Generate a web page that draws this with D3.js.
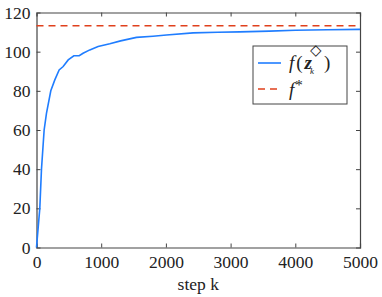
<!DOCTYPE html>
<html>
<head>
<meta charset="utf-8">
<script src="https://cdnjs.cloudflare.com/ajax/libs/d3/7.8.5/d3.min.js"></script>
<style>
  body { margin: 0; background: #fff; }
</style>
</head>
<body>
<div id="chart"></div>
<script>
// values
var steps = [0, 51, 77, 118, 154, 221, 283, 350, 412, 490, 577, 660, 720, 824, 952, 1133, 1300, 1545, 1800, 2009, 2420, 2800, 3142, 3600, 4000, 4500, 5000];
var fvals = [0, 20, 40, 60, 68.5, 80, 85.6, 90.7, 92.4, 95.8, 97.9, 97.9, 99.2, 100.9, 102.6, 104.0, 105.5, 107.3, 107.9, 108.5, 109.6, 109.9, 110.1, 110.5, 110.9, 111.2, 111.4];
var fStar = 113.2;
var xTicks = [0, 1000, 2000, 3000, 4000, 5000];
var yTicks = [0, 20, 40, 60, 80, 100, 120];

var W = 382, H = 297;
var mL = 36.5, mR = 360, mT = 12.5, mB = 247.5;
var FONT = "'Liberation Serif', 'Times New Roman', serif";

var svg = d3.select("#chart").append("svg")
  .attr("width", W).attr("height", H)
  .attr("font-family", FONT);

var x = d3.scaleLinear().domain([0, 5000]).range([mL, mR]);
var y = d3.scaleLinear().domain([0, 120]).range([mB, mT]);

// axes box with inward ticks on every side
var axColor = "#444";
var xb = svg.append("g").attr("transform", "translate(0," + mB + ")")
  .call(d3.axisBottom(x).tickValues(xTicks).tickSize(-4).tickPadding(8).tickFormat(d3.format("d")));
var xt = svg.append("g").attr("transform", "translate(0," + mT + ")")
  .call(d3.axisTop(x).tickValues(xTicks).tickSize(-4).tickFormat(""));
var yl = svg.append("g").attr("transform", "translate(" + mL + ",0)")
  .call(d3.axisLeft(y).tickValues(yTicks).tickSize(-4).tickPadding(6));
var yr = svg.append("g").attr("transform", "translate(" + mR + ",0)")
  .call(d3.axisRight(y).tickValues(yTicks).tickSize(-4).tickFormat(""));

[xb, xt, yl, yr].forEach(function (g) {
  g.attr("font-family", FONT).attr("font-size", 17.5);
  g.selectAll("path").attr("stroke", axColor).attr("stroke-width", 1.2);
  g.selectAll("line").attr("stroke", axColor);
  g.selectAll("text").style("font-family", FONT)
    .style("font-size", "17.5px").attr("fill", "#222");
});
// drop end ticks that land on the box
xb.selectAll(".tick line").filter(function (d) { return d === 0 || d === 5000; }).remove();
xt.selectAll(".tick line").filter(function (d) { return d === 0 || d === 5000; }).remove();
yl.selectAll(".tick line").filter(function (d) { return d === 0 || d === 120; }).remove();
yr.selectAll(".tick line").filter(function (d) { return d === 0 || d === 120; }).remove();

// x label
svg.append("text")
  .attr("x", (mL + mR) / 2).attr("y", 290)
  .attr("text-anchor", "middle")
  .style("font-family", FONT)
  .style("font-size", "17.5px")
  .attr("fill", "#222")
  .text("step k");

// optimum line
svg.append("line")
  .attr("x1", x(0)).attr("x2", x(5000))
  .attr("y1", y(fStar)).attr("y2", y(fStar))
  .attr("stroke", "#e0401c").attr("stroke-width", 1.6)
  .attr("stroke-dasharray", "7,5");

// objective curve
var line = d3.line()
  .x(function (d, i) { return x(steps[i]); })
  .y(function (d) { return y(d); });
svg.append("path")
  .datum(fvals)
  .attr("d", line)
  .attr("fill", "none")
  .attr("stroke", "#1f7dff")
  .attr("stroke-width", 1.6);

// legend
var lg = svg.append("g").style("font-family", FONT).attr("fill", "#222");
lg.append("rect")
  .attr("x", 253).attr("y", 46).attr("width", 94).attr("height", 58)
  .attr("fill", "#fff").attr("stroke", "#444").attr("stroke-width", 1);
lg.append("line").attr("x1", 258).attr("x2", 281).attr("y1", 63).attr("y2", 63)
  .attr("stroke", "#1f7dff").attr("stroke-width", 1.6);
lg.append("line").attr("x1", 258).attr("x2", 281).attr("y1", 89).attr("y2", 89)
  .attr("stroke", "#e0401c").attr("stroke-width", 1.6).attr("stroke-dasharray", "7,5");

var t1 = lg.append("text").attr("x", 289).attr("y", 69).style("font-size", "19px");
t1.append("tspan").style("font-style", "italic").text("f");
t1.append("tspan").attr("dx", 2).text("(");
t1.append("tspan").attr("dx", 2).style("font-style", "italic").style("font-weight", "bold").text("z");
t1.append("tspan").attr("dx", -2).attr("dy", 5).style("font-size", "9px").style("font-style", "italic").text("k");
t1.append("tspan").attr("dx", 10).attr("dy", -5).text(")");
lg.append("text").attr("x", 310).attr("y", 55).style("font-size", "15px").text("\u25C7");

var t2 = lg.append("text").attr("x", 289).attr("y", 96).style("font-size", "19px");
t2.append("tspan").style("font-style", "italic").text("f");
t2.append("tspan").attr("dx", 1).attr("dy", -6).style("font-size", "15px").text("*");
</script>
</body>
</html>
